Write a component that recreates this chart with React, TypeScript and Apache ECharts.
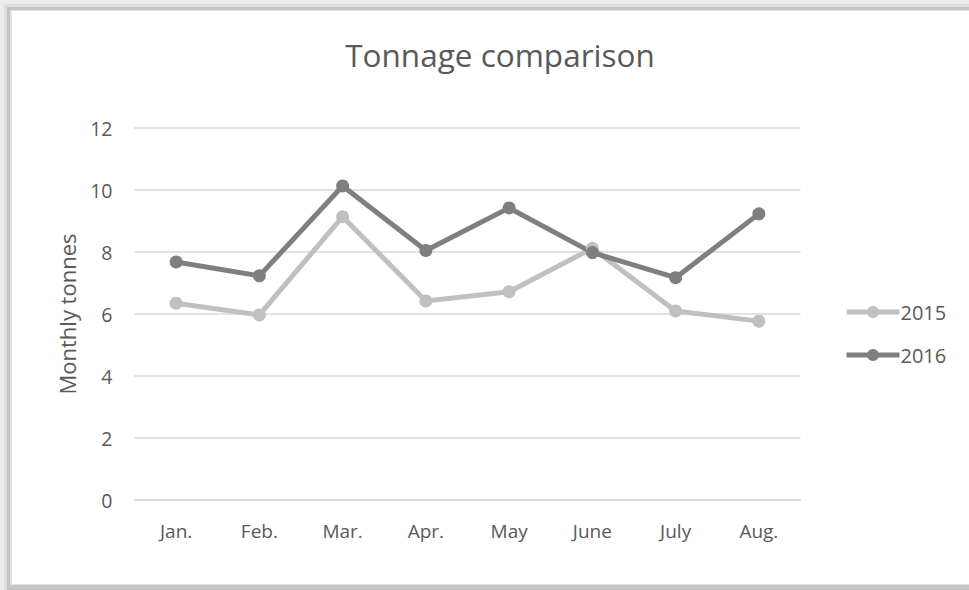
import React, { useEffect, useRef } from "react";
import * as echarts from "echarts";

const categories = ["Jan.", "Feb.", "Mar.", "Apr.", "May", "June", "July", "Aug."];
const values2015 = [6.35, 5.97, 9.14, 6.42, 6.72, 8.12, 6.1, 5.77];
const values2016 = [7.68, 7.23, 10.13, 8.05, 9.42, 7.98, 7.17, 9.23];
const yTicks = { min: 0, max: 12, interval: 2 };

const FONT = "'Open Sans', sans-serif";
const TEXT = "#595959";

export default function App() {
  const ref = useRef<HTMLDivElement>(null);
  useEffect(() => {
    document.body.style.margin = "0";
    document.body.style.overflow = "hidden";
    document.documentElement.style.overflow = "hidden";
    if (!ref.current) return;
    const chart = echarts.init(ref.current, undefined, { renderer: "svg" });
    chart.setOption({
      animation: false,
      backgroundColor: "#ffffff",
      graphic: [
        { type: "rect", z: -10, shape: { x: 0, y: 0, width: 990, height: 600 }, style: { fill: "#ececec" } },
        { type: "rect", z: -9, shape: { x: 4, y: 4, width: 986, height: 596 }, style: { fill: "#dedede" } },
        { type: "rect", z: -8, shape: { x: 7, y: 7, width: 983, height: 593 }, style: { fill: "#c4c4c4" } },
        { type: "rect", z: -7, shape: { x: 10, y: 10, width: 980, height: 575 }, style: { fill: "#e2e2e2" } },
        { type: "rect", z: -6, shape: { x: 12, y: 11, width: 978, height: 573 }, style: { fill: "#ffffff" } },
      ],
      title: {
        text: "Tonnage comparison",
        left: 495,
        textAlign: "center",
        top: 33,
        textStyle: { fontFamily: FONT, fontSize: 31.5, fontWeight: "normal", color: TEXT },
      },
      legend: {
        orient: "vertical",
        left: 839,
        top: 297,
        itemWidth: 53,
        itemHeight: 15,
        itemGap: 23,
        lineStyle: { width: 5 },
        textStyle: { fontFamily: FONT, fontSize: 20, color: TEXT, padding: [0, 0, 0, -4] },
        data: ["2015", "2016"],
      },
      grid: { left: 134.5, right: 168.5, top: 128, bottom: 90 },
      xAxis: {
        type: "category",
        data: categories,
        boundaryGap: true,
        axisLine: { lineStyle: { color: "#d9d9d9", width: 1.5 } },
        axisTick: { show: false },
        axisLabel: { fontFamily: FONT, fontSize: 19, color: TEXT, margin: 21 },
      },
      yAxis: {
        type: "value",
        min: yTicks.min,
        max: yTicks.max,
        interval: yTicks.interval,
        name: "Monthly tonnes",
        nameLocation: "middle",
        nameGap: 57,
        nameTextStyle: { fontFamily: FONT, fontSize: 22, color: TEXT },
        axisLine: { show: false },
        axisTick: { show: false },
        axisLabel: { fontFamily: FONT, fontSize: 19.5, color: TEXT, margin: 22 },
        splitLine: { lineStyle: { color: "#d9d9d9", width: 1.5 } },
      },
      series: [
        {
          name: "2015",
          type: "line",
          data: values2015,
          symbol: "circle",
          symbolSize: 13,
          itemStyle: { color: "#c0c0c0" },
          lineStyle: { color: "#c0c0c0", width: 5 },
        },
        {
          name: "2016",
          type: "line",
          data: values2016,
          symbol: "circle",
          symbolSize: 13,
          itemStyle: { color: "#7f7f7f" },
          lineStyle: { color: "#7f7f7f", width: 5 },
        },
      ],
    });
    return () => chart.dispose();
  }, []);
  return <div ref={ref} style={{ width: 969, height: 590 }} />;
}
